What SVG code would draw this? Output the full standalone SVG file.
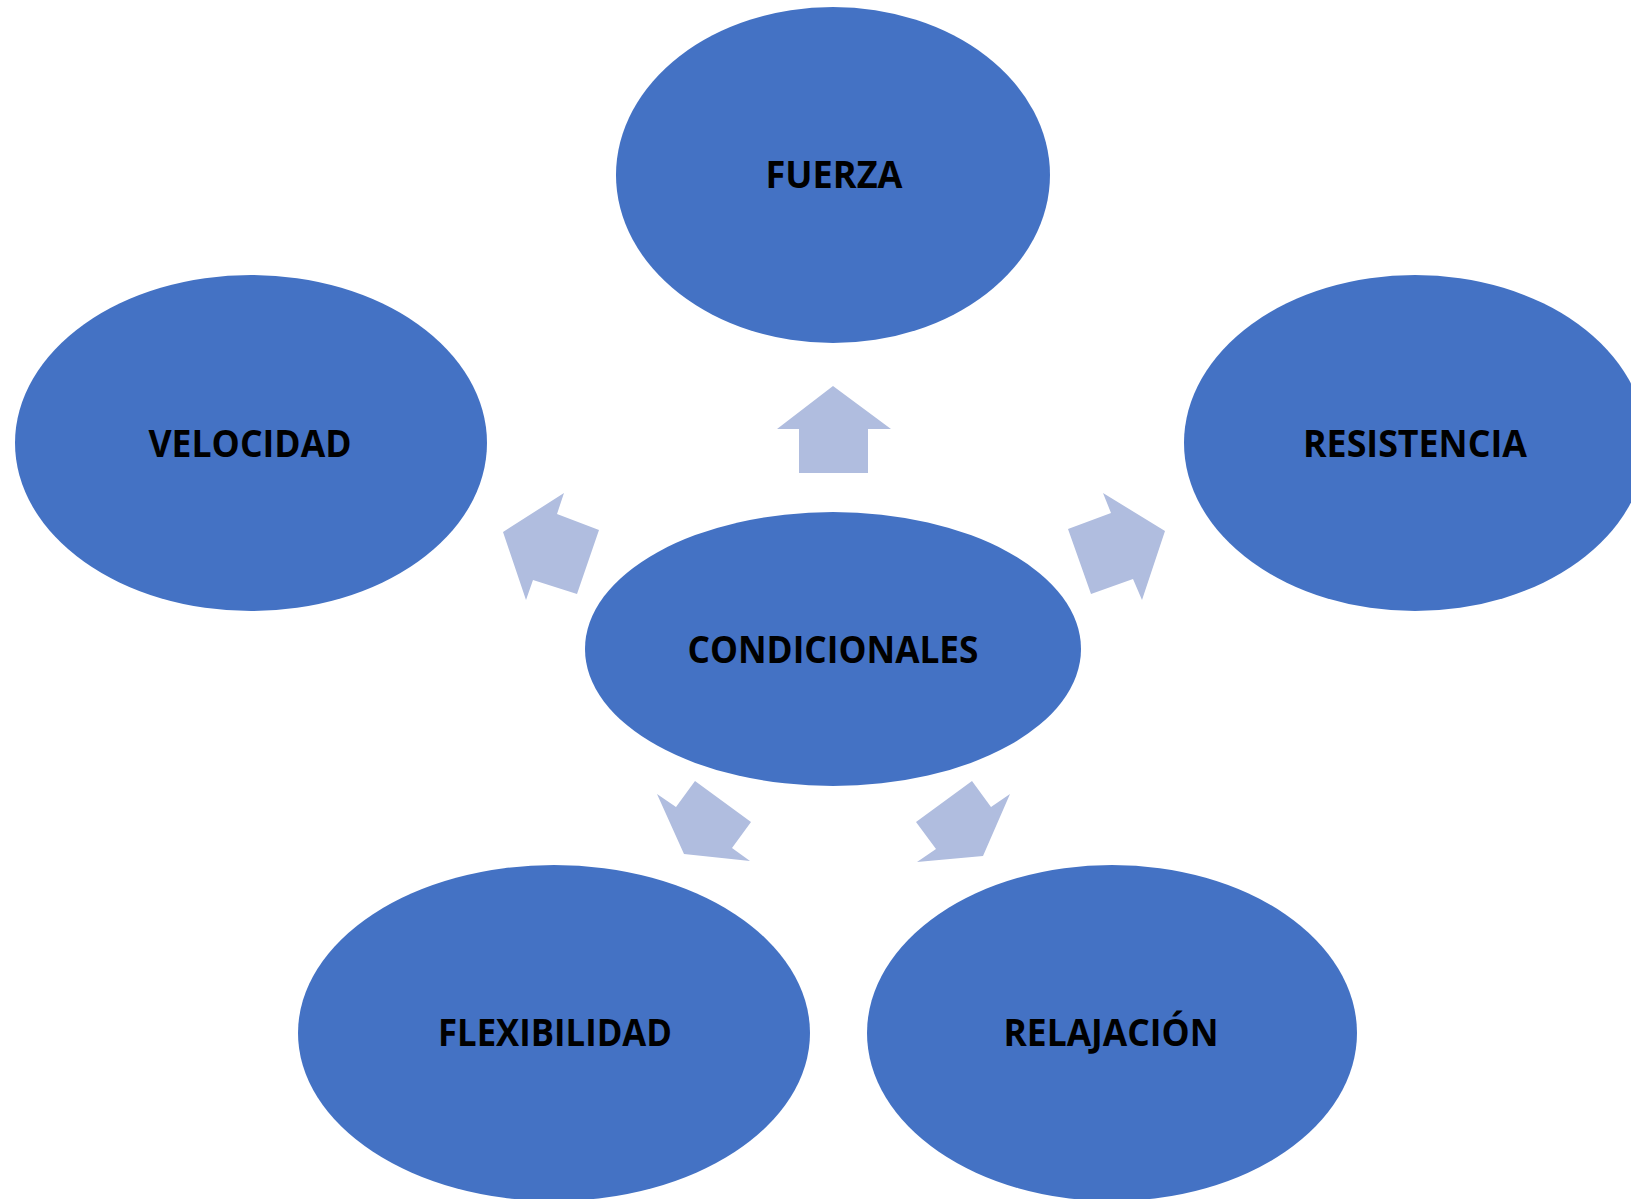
<svg xmlns="http://www.w3.org/2000/svg" width="1631" height="1199" viewBox="0 0 1631 1199">
<style>
.n{fill:#4472C4}
.t{font-family:"Open Sans","Liberation Sans",sans-serif;font-weight:bold;font-size:37px;fill:#000;text-anchor:middle}
.a{fill:#B0BDDF}
</style>
<rect width="1631" height="1199" fill="#fff"/>
<g id="connectors">
<polygon class="a" points="833,386 891,429 868,429 868,473 799,473 799,429 777,429"/>
<polygon class="a" points="503,532 564,493 557,514 599,530 577,594 533,580 526,600"/>
<polygon class="a" points="1165,531 1103,493 1111,513 1068,529 1091,594 1133,579 1142,600"/>
<polygon class="a" points="684,854 657,794 676,807 695,781 751,822 732,848 750,861"/>
<polygon class="a" points="983,856 1010,794 991,807 972,781 916,822 936,849 917,862"/>
</g>
<g id="fuerza"><ellipse class="n" cx="833" cy="175" rx="217" ry="168"/><text class="t" x="834" y="188" textLength="137" lengthAdjust="spacingAndGlyphs">FUERZA</text></g>
<g id="velocidad"><ellipse class="n" cx="251" cy="443" rx="236" ry="168"/><text class="t" x="250" y="457" textLength="203" lengthAdjust="spacingAndGlyphs">VELOCIDAD</text></g>
<g id="resistencia"><ellipse class="n" cx="1415" cy="443" rx="231" ry="168"/><text class="t" x="1415" y="457" textLength="224" lengthAdjust="spacingAndGlyphs">RESISTENCIA</text></g>
<g id="condicionales"><ellipse class="n" cx="833" cy="649" rx="248" ry="137"/><text class="t" x="833" y="663" textLength="291" lengthAdjust="spacingAndGlyphs">CONDICIONALES</text></g>
<g id="flexibilidad"><ellipse class="n" cx="554" cy="1033" rx="256" ry="168"/><text class="t" x="555" y="1046" textLength="234" lengthAdjust="spacingAndGlyphs">FLEXIBILIDAD</text></g>
<g id="relajacion"><ellipse class="n" cx="1112" cy="1033" rx="245" ry="168"/><text class="t" x="1111" y="1046" textLength="215" lengthAdjust="spacingAndGlyphs">RELAJACIÓN</text></g>
</svg>
